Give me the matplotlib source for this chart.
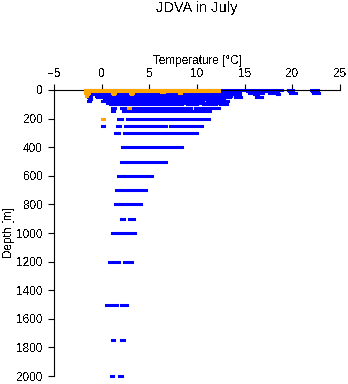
import matplotlib
matplotlib.use("Agg")
import matplotlib.pyplot as plt

plt.rcParams["font.family"] = ["Liberation Sans", "DejaVu Sans"]
plt.rcParams["text.antialiased"] = False

# blue stations: each row is one run of readings at a depth (m), T from..to (degC)
blue_depth = [0, 0, 0, 0, 0,
              10, 10, 10, 10, 10,
              20, 20, 20, 20, 20,
              30, 30, 30, 30, 30,
              40, 40, 40,
              50, 50, 50, 50,
              60, 60,
              75, 75, 75, 75,
              90, 90,
              100, 100, 100, 100,
              125, 125, 125, 125, 125,
              150, 150, 150, 150, 150,
              200, 200, 200, 200, 200,
              250, 250, 250, 250, 250,
              300, 300, 300, 300,
              400, 400, 400,
              500, 500, 500,
              600, 600, 600,
              700, 700, 700,
              800, 800, 800,
              900, 900,
              1000, 1000, 1000,
              1200, 1200,
              1500, 1500,
              1750, 1750,
              2000, 2000]
blue_t_from = [-1.6, 15.0, 16.9, 19.5, 22.0,
               -1.5, 15.2, 17.0, 19.6, 22.1,
               -1.5, 15.5, 17.5, 19.8, 22.2,
               -1.5, -0.8, 14.2, 16.0, 18.4,
               -1.4, -0.6, 14.0,
               -1.4, -0.5, 14.0, 16.2,
               -1.3, 0.2,
               -1.4, 0.0, 11.1, 12.2,
               0.6, 7.5,
               0.9, 8.9, 10.6, 12.4,
               1.1, 2.0, 2.8, 9.8, 12.0,
               1.1, 2.2, 2.9, 7.8, 8.8,
               1.75, 2.7, 7.5, 8.1, 9.9,
               0.0, 1.6, 2.45, 7.2, 9.2,
               1.4, 2.35, 6.9, 9.6,
               2.15, 2.7, 8.0,
               2.0, 2.55, 6.5,
               1.7, 2.3, 3.0,
               1.5, 2.2, 2.9,
               1.4, 1.9, 2.7,
               2.0, 2.9,
               1.1, 1.7, 2.45,
               0.8, 2.3,
               0.45, 2.0,
               1.1, 2.0,
               1.0, 1.8]
blue_t_to = [14.7, 16.6, 18.9, 20.1, 22.7,
             14.5, 16.5, 18.5, 20.0, 22.6,
             14.0, 16.9, 18.2, 20.4, 22.8,
             -1.0, 13.8, 14.5, 16.4, 18.6,
             -1.1, 13.6, 14.4,
             -1.2, 13.5, 14.6, 16.8,
             -1.1, 12.8,
             -1.2, 10.6, 11.9, 13.2,
             7.0, 12.5,
             8.4, 10.0, 12.0, 13.1,
             1.4, 2.6, 9.4, 11.8, 12.3,
             1.3, 2.6, 7.5, 8.5, 11.4,
             2.1, 7.3, 7.9, 9.6, 11.3,
             0.2, 1.9, 6.8, 8.9, 10.5,
             1.8, 6.65, 9.4, 10.0,
             2.5, 7.9, 8.4,
             2.4, 6.4, 6.75,
             2.2, 2.8, 5.3,
             1.9, 2.7, 4.6,
             1.8, 2.5, 4.15,
             2.3, 3.4,
             1.6, 2.2, 3.5,
             1.85, 3.15,
             1.6, 2.7,
             1.3, 2.3,
             1.2, 2.1]

# orange stations
orange_depth = [0, 10, 20, 30, 40, 20, 30, 20, 30, 15, 20, 125, 200]
orange_t_from = [-1.8, -1.8, -1.7, -1.6, -1.6, 1.1, 1.2, 3.0, 3.1, 6.2, 8.1, 2.8, 0.0]
orange_t_to = [12.3, 12.3, -1.3, -1.4, -1.5, 1.4, 1.3, 3.3, 3.2, 6.5, 8.3, 3.0, 0.2]

fig = plt.figure(figsize=(3.48, 3.84), dpi=100)
ax = fig.add_axes([54 / 348, 1 - 376 / 384, 286 / 348, 286 / 384])

ax.hlines(blue_depth, blue_t_from, blue_t_to, colors="#0000ff", linewidths=2.2,
          capstyle="projecting", clip_on=False, zorder=2)
ax.hlines(orange_depth, orange_t_from, orange_t_to, colors="#ffa500", linewidths=2.2,
          capstyle="projecting", clip_on=False, zorder=3)

ax.set_xlim(-5, 25)
ax.set_ylim(2000, 0)
ax.set_xticks([-5, 0, 5, 10, 15, 20, 25])
ax.set_yticks(range(0, 2001, 200))

ax.spines["bottom"].set_visible(False)
ax.spines["right"].set_visible(False)
ax.spines["top"].set_linewidth(0.8)
ax.spines["left"].set_linewidth(0.8)
ax.xaxis.tick_top()
ax.xaxis.set_label_position("top")
ax.tick_params(axis="both", length=4, width=0.8, labelsize=8.5, color="black")
ax.tick_params(axis="x", pad=3)
ax.tick_params(axis="y", pad=4)
ax.set_xlabel("Temperature [°C]", fontsize=8.5, labelpad=3)
ax.set_ylabel("Depth [m]", fontsize=8.5, labelpad=1)
fig.text(0.565, 0.978, "JDVA in July", ha="center", va="center", fontsize=10.5)

fig.savefig("out.png", dpi=100)
